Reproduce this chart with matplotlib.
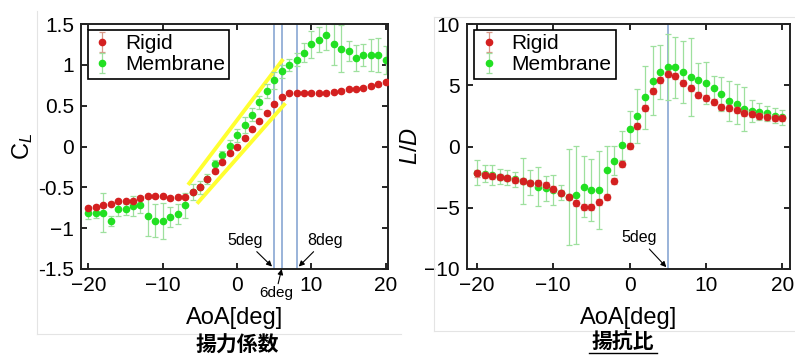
import matplotlib

matplotlib.use("Agg")
import matplotlib.pyplot as plt
import numpy as np

plt.rcParams["font.family"] = ["Liberation Sans", "DejaVu Sans"]
plt.rcParams["mathtext.fontset"] = "custom"
plt.rcParams["mathtext.rm"] = "Liberation Sans"
plt.rcParams["mathtext.it"] = "Liberation Sans:italic"

aoa = np.arange(-20, 21)

# lift coefficient
cl_rigid = [-0.75, -0.74, -0.72, -0.70, -0.67, -0.67, -0.67, -0.63, -0.61, -0.61,
            -0.61, -0.63, -0.62, -0.62, -0.56, -0.49, -0.40, -0.30, -0.19, -0.08,
            0.00, 0.11, 0.21, 0.31, 0.41, 0.52, 0.61, 0.66, 0.66, 0.66,
            0.66, 0.65, 0.66, 0.67, 0.68, 0.70, 0.71, 0.72, 0.74, 0.76, 0.79]
cl_rigid_err = [0.02] * 41
cl_memb = [-0.82, -0.81, -0.81, -0.91, -0.77, -0.77, -0.73, -0.72, -0.85, -0.91,
           -0.91, -0.86, -0.83, -0.72, -0.56, -0.50, -0.40, -0.22, -0.11, 0.01,
           0.14, 0.26, 0.39, 0.54, 0.68, 0.81, 0.92, 1.00, 1.06, 1.15,
           1.25, 1.31, 1.36, 1.25, 1.20, 1.17, 1.08, 1.12, 1.12, 1.12, 1.06]
cl_memb_err = [0.07, 0.06, 0.24, 0.06, 0.08, 0.07, 0.12, 0.10, 0.25, 0.20,
               0.22, 0.12, 0.12, 0.15, 0.10, 0.08, 0.06, 0.06, 0.06, 0.07,
               0.08, 0.10, 0.08, 0.08, 0.08, 0.10, 0.08, 0.07, 0.08, 0.12,
               0.17, 0.15, 0.18, 0.25, 0.29, 0.12, 0.16, 0.13, 0.20, 0.21, 0.17]

# lift-to-drag ratio
ld_rigid = [-2.20, -2.30, -2.40, -2.50, -2.60, -2.70, -2.85, -2.95, -3.00, -3.15,
            -3.45, -3.80, -4.15, -4.60, -4.95, -4.95, -4.55, -4.10, -2.85, -1.40,
            0.05, 1.70, 3.12, 4.56, 5.43, 5.89, 5.76, 5.21, 4.80, 4.20,
            3.93, 3.66, 3.25, 3.12, 2.98, 2.76, 2.63, 2.52, 2.43, 2.35, 2.30]
ld_rigid_err = [0.25] * 41
ld_memb = [-2.14, -2.22, -2.33, -2.46, -2.54, -2.68, -2.82, -2.95, -3.28, -3.41,
           -3.55, -3.77, -4.10, -3.96, -3.28, -3.55, -3.55, -1.92, -1.16, 0.10,
           1.40, 2.52, 4.01, 5.37, 6.05, 6.52, 6.46, 6.08, 5.65, 5.43,
           5.16, 4.75, 4.29, 3.71, 3.47, 3.03, 2.92, 2.84, 2.71, 2.52, 2.38]
ld_memb_err = [1.0, 0.7, 0.8, 0.6, 0.6, 0.6, 1.9, 1.0, 1.6, 1.0,
               1.2, 0.6, 3.9, 4.0, 2.5, 2.5, 3.2, 2.0, 1.2, 1.2,
               1.5, 2.2, 2.6, 2.8, 2.2, 2.7, 2.5, 2.5, 3.2, 1.4,
               1.7, 1.0, 1.4, 1.6, 1.6, 1.8, 0.9, 0.7, 0.6, 0.6, 0.6]

cl_marks = [5, 6, 8]
ld_marks = [5]
# yellow band drawn over the linear range (x0, y0, x1, y1)
band_upper = (-6.6, -0.47, 6.2, 1.07)
band_lower = (-5.4, -0.70, 6.5, 0.53)

RED, RED_ERR = "#d42020", "#d89a8a"
GREEN, GREEN_ERR = "#22e022", "#9ee09e"
VLINE = "#7f9fd0"


def draw(ax, r, r_err, m, m_err, marks):
    for x in marks:
        ax.axvline(x, color=VLINE, lw=1.1, zorder=1)
    ax.errorbar(aoa, r, yerr=r_err, fmt="o", ms=4.5, color=RED, ecolor=RED_ERR,
                elinewidth=0.9, capsize=2.5, capthick=0.9, label="Rigid", zorder=3)
    ax.errorbar(aoa, m, yerr=m_err, fmt="o", ms=4.5, color=GREEN, ecolor=GREEN_ERR,
                elinewidth=0.9, capsize=2.5, capthick=0.9, label="Membrane", zorder=2)
    ax.tick_params(direction="in", top=True, right=True, labelsize=15, length=4,
                   width=1.2, pad=5)
    for s in ax.spines.values():
        s.set_linewidth(1.4)
        s.set_color("#222222")
    ax.set_xticks([-20, -10, 0, 10, 20])
    ax.set_xlabel("AoA[deg]", fontsize=17, labelpad=9)
    leg = ax.legend(loc="upper left", bbox_to_anchor=(0.022, 0.975), borderaxespad=0,
                    fontsize=15, fancybox=False, edgecolor="black", framealpha=1,
                    handlelength=1.0, handletextpad=0.6, labelspacing=0.1,
                    borderpad=0.2)
    leg.get_frame().set_linewidth(1.2)


fig = plt.figure(figsize=(7.95, 3.59), dpi=100)

# faint panel borders
fig.add_artist(plt.Line2D([37 / 795, 37 / 795], [1 - 11 / 359, 1 - 334 / 359],
                          color="#e4e4e4", lw=0.8))
fig.add_artist(plt.Line2D([37 / 795, 401 / 795], [1 - 334 / 359, 1 - 334 / 359],
                          color="#e4e4e4", lw=0.8))
fig.add_artist(plt.Line2D([434 / 795, 434 / 795], [1 - 17 / 359, 1 - 331 / 359],
                          color="#e4e4e4", lw=0.8))
fig.add_artist(plt.Line2D([434 / 795, 1], [1 - 17 / 359, 1 - 17 / 359],
                          color="#e4e4e4", lw=0.8))
fig.add_artist(plt.Line2D([434 / 795, 1], [1 - 331 / 359, 1 - 331 / 359],
                          color="#e4e4e4", lw=0.8))

ax1 = fig.add_axes([81 / 795, 90 / 359, 307 / 795, 245 / 359])
draw(ax1, cl_rigid, cl_rigid_err, cl_memb, cl_memb_err, cl_marks)
for b in (band_upper, band_lower):
    ax1.plot([b[0], b[2]], [b[1], b[3]], color="#ffff30", lw=2.8,
             solid_capstyle="butt", zorder=1.5)
ax1.set_xlim(-21, 20.3)
ax1.set_ylim(-1.5, 1.5)
ax1.set_yticks([-1.5, -1, -0.5, 0, 0.5, 1, 1.5])
ax1.set_yticklabels(["-1.5", "\u22121", "-0.5", "0", "0.5", "1", "1.5"])
ax1.set_ylabel(r"$\mathrm{C}_{\mathit{L}}$", fontsize=17, labelpad=2)
arrow = dict(arrowstyle="-|>", color="black", lw=0.8, mutation_scale=8,
             shrinkA=1, shrinkB=0)
ax1.annotate("5deg", xy=(4.7, -1.47), xytext=(1.1, -1.15), fontsize=11.5,
             ha="center", va="center", arrowprops=arrow)
ax1.annotate("8deg", xy=(8.3, -1.47), xytext=(11.8, -1.15), fontsize=11.5,
             ha="center", va="center", arrowprops=arrow)
ax1.annotate("6deg", xy=(6.0, -1.5), xytext=(5.2, -1.8), fontsize=11,
             ha="center", va="center", annotation_clip=False,
             arrowprops=dict(arrow, shrinkA=0))

ax2 = fig.add_axes([467 / 795, 90 / 359, 323 / 795, 245 / 359])
draw(ax2, ld_rigid, ld_rigid_err, ld_memb, ld_memb_err, ld_marks)
ax2.set_xlim(-21.3, 21)
ax2.set_ylim(-10, 10)
ax2.set_yticks([-10, -5, 0, 5, 10])
ax2.set_ylabel(r"$\mathit{L/D}$", fontsize=17, labelpad=2)
ax2.annotate("5deg", xy=(4.8, -9.85), xytext=(1.2, -7.45), fontsize=11.5,
             ha="center", va="center", arrowprops=arrow)

cjk = ["Noto Sans CJK JP", "DejaVu Sans"]
fig.text(237 / 795, 1 - 345 / 359, "揚力係数", family=cjk, fontsize=15,
         fontweight="bold", ha="center", va="center")
fig.text(623 / 795, 1 - 341 / 359, "揚抗比", family=cjk, fontsize=15,
         fontweight="bold", ha="center", va="center")
fig.add_artist(plt.Line2D([589 / 795, 657 / 795], [1 - 353 / 359, 1 - 353 / 359],
                          color="black", lw=1.0))

fig.savefig("out.png", dpi=100)
